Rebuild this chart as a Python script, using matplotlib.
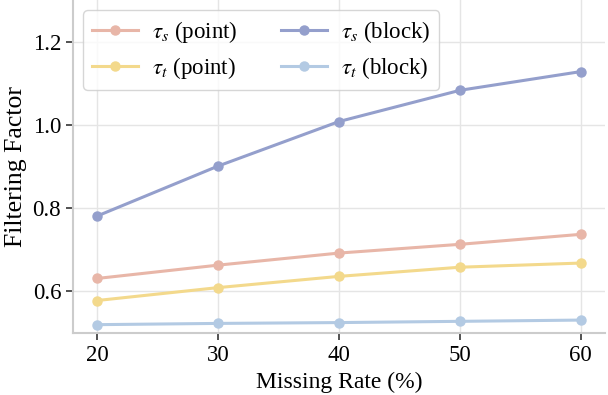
import matplotlib
matplotlib.use("Agg")
import matplotlib.pyplot as plt

plt.rcParams["font.family"] = "Liberation Serif"
plt.rcParams["mathtext.fontset"] = "stix"

# data
missing_rate = [20, 30, 40, 50, 60]
ts_point = [0.631, 0.663, 0.692, 0.713, 0.737]
tt_point = [0.578, 0.609, 0.636, 0.658, 0.668]
ts_block = [0.781, 0.901, 1.008, 1.083, 1.128]
tt_block = [0.520, 0.523, 0.525, 0.528, 0.531]

series = [
    (ts_point, r"$\tau_s$ (point)", "#E8B6A8"),
    (tt_point, r"$\tau_t$ (point)", "#F3D98C"),
    (ts_block, r"$\tau_s$ (block)", "#949FCC"),
    (tt_block, r"$\tau_t$ (block)", "#B3CAE3"),
]

fig, ax = plt.subplots(figsize=(6.08, 3.95), dpi=100)
for vals, label, color in series:
    ax.plot(missing_rate, vals, marker="o", markersize=6.5, linewidth=2.2,
            color=color, label=label)

ax.set_xlim(18, 62)
ax.set_ylim(0.5, 1.3)
ax.set_xticks(missing_rate)
ax.set_yticks([0.6, 0.8, 1.0, 1.2])
ax.grid(True, color="#e5e5e5", linewidth=1)
ax.set_axisbelow(True)
for side in ["top", "right"]:
    ax.spines[side].set_visible(False)
for side in ["left", "bottom"]:
    ax.spines[side].set_color("#cccccc")
    ax.spines[side].set_linewidth(1.5)
ax.tick_params(labelsize=16.5, length=5, width=1.2, color="#333333")
ax.set_xlabel("Missing Rate (%)", fontsize=17)
ax.set_ylabel("Filtering Factor", fontsize=18.5)

ax.legend(ncol=2, fontsize=16.5, loc="upper left", frameon=True,
          edgecolor="#cccccc", columnspacing=1.9, handlelength=2.0,
          handletextpad=0.6, labelspacing=0.4, borderaxespad=0.45)

fig.subplots_adjust(left=0.12, right=0.995, top=1.0, bottom=0.157)
fig.savefig("out.png", dpi=100)
